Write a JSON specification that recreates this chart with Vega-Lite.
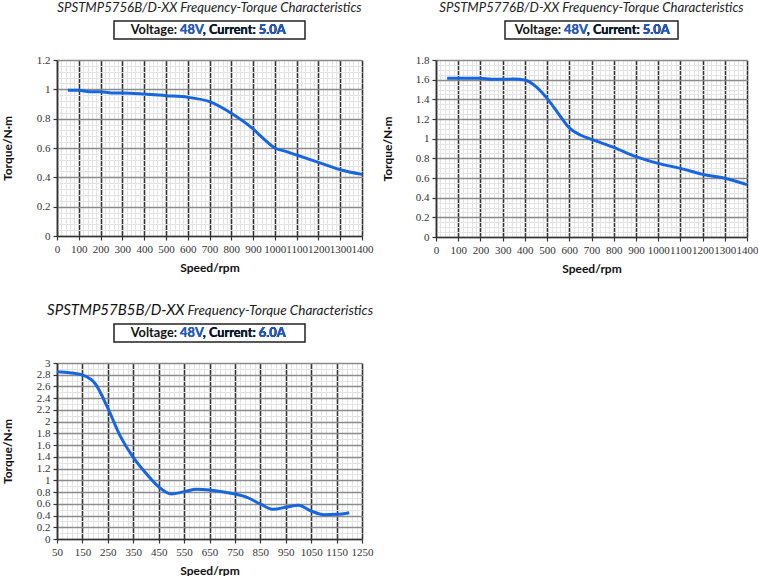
{
  "$schema": "https://vega.github.io/schema/vega-lite/v6.json",
  "background": "white",
  "padding": {"left": 1, "top": 0, "right": 0, "bottom": 0},
  "datasets": {
    "p1": [
      {"speed": 50, "torque": 0.993}, {"speed": 100, "torque": 0.993}, {"speed": 150, "torque": 0.984},
      {"speed": 200, "torque": 0.984}, {"speed": 250, "torque": 0.975}, {"speed": 300, "torque": 0.975},
      {"speed": 400, "torque": 0.968}, {"speed": 500, "torque": 0.957}, {"speed": 600, "torque": 0.946},
      {"speed": 700, "torque": 0.916}, {"speed": 800, "torque": 0.837}, {"speed": 900, "torque": 0.73},
      {"speed": 950, "torque": 0.66}, {"speed": 1000, "torque": 0.6}, {"speed": 1050, "torque": 0.577},
      {"speed": 1100, "torque": 0.552}, {"speed": 1200, "torque": 0.502}, {"speed": 1300, "torque": 0.452},
      {"speed": 1400, "torque": 0.42}
    ],
    "p2": [
      {"speed": 50, "torque": 1.614}, {"speed": 100, "torque": 1.614}, {"speed": 200, "torque": 1.614},
      {"speed": 250, "torque": 1.604}, {"speed": 300, "torque": 1.604}, {"speed": 350, "torque": 1.607},
      {"speed": 400, "torque": 1.597}, {"speed": 450, "torque": 1.53}, {"speed": 500, "torque": 1.41},
      {"speed": 550, "torque": 1.258}, {"speed": 600, "torque": 1.11}, {"speed": 650, "torque": 1.037},
      {"speed": 700, "torque": 0.993}, {"speed": 800, "torque": 0.912}, {"speed": 900, "torque": 0.817},
      {"speed": 1000, "torque": 0.749}, {"speed": 1100, "torque": 0.698}, {"speed": 1200, "torque": 0.637},
      {"speed": 1300, "torque": 0.597}, {"speed": 1400, "torque": 0.532}
    ],
    "p3": [
      {"speed": 50, "torque": 2.852}, {"speed": 100, "torque": 2.835}, {"speed": 150, "torque": 2.795},
      {"speed": 200, "torque": 2.65}, {"speed": 250, "torque": 2.23}, {"speed": 300, "torque": 1.745},
      {"speed": 350, "torque": 1.39}, {"speed": 400, "torque": 1.12}, {"speed": 450, "torque": 0.89},
      {"speed": 500, "torque": 0.767}, {"speed": 550, "torque": 0.807}, {"speed": 600, "torque": 0.847},
      {"speed": 650, "torque": 0.835}, {"speed": 700, "torque": 0.807}, {"speed": 750, "torque": 0.767},
      {"speed": 800, "torque": 0.705}, {"speed": 850, "torque": 0.597}, {"speed": 900, "torque": 0.506},
      {"speed": 950, "torque": 0.54}, {"speed": 1000, "torque": 0.574}, {"speed": 1050, "torque": 0.477},
      {"speed": 1100, "torque": 0.415}, {"speed": 1150, "torque": 0.42}, {"speed": 1200, "torque": 0.449}
    ]
  },
  "config": {
    "view": {"stroke": null},
    "axis": {
      "labelFont": "Liberation Serif", "labelFontSize": 11, "labelColor": "#333",
      "labelOverlap": false, "labelFlush": false,
      "domainColor": "#333", "domainWidth": 1.5, "tickColor": "#333", "tickSize": 4, "tickWidth": 1.2,
      "titleFont": "Lato", "titleFontWeight": "bold", "titleFontSize": 12, "titleColor": "#111"
    },
    "axisX": {"labelPadding": 3, "titlePadding": 8},
    "axisY": {"labelPadding": 3}
  },
  "vconcat": [
    {
      "hconcat": [
        {
          "vconcat": [
            {
              "width": 191, "height": 18,
              "view": {"stroke": "#222", "strokeWidth": 1.5},
              "title": {"text": "SPSTMP5756B/D-XX Frequency-Torque Characteristics", "font": "Lato", "fontStyle": "italic", "fontWeight": "normal", "fontSize": 13.2, "color": "#222", "offset": 6},
              "data": {"values": [{}]},
              "layer": [
                {"mark": {"type": "text", "align": "right", "dx": 76, "font": "Lato", "fontWeight": "bold", "fontSize": 12.75, "color": "#111"}, "encoding": {"text": {"value": "Voltage: 48V, Current: 5.0A"}}},
                {"mark": {"type": "text", "align": "right", "dx": 76, "font": "Lato", "fontWeight": "bold", "fontSize": 12.75, "color": "#1f5fd0"}, "encoding": {"text": {"value": "48V, Current: 5.0A"}}},
                {"mark": {"type": "text", "align": "right", "dx": 76, "font": "Lato", "fontWeight": "bold", "fontSize": 12.75, "color": "#111"}, "encoding": {"text": {"value": ", Current: 5.0A"}}},
                {"mark": {"type": "text", "align": "right", "dx": 76, "font": "Lato", "fontWeight": "bold", "fontSize": 12.75, "color": "#1f5fd0"}, "encoding": {"text": {"value": "5.0A"}}}
              ]
            },
            {
              "width": 305, "height": 176,
              "data": {"name": "p1"},
              "layer": [
                {
                  "mark": {"type": "line", "color": "#1766dd", "strokeWidth": 3, "interpolate": "monotone"},
                  "encoding": {
                    "x": {"field": "speed", "type": "quantitative", "scale": {"domain": [0, 1400], "nice": false, "zero": false},
                      "axis": {"orient": "bottom", "values": [0,20,40,60,80,100,120,140,160,180,200,220,240,260,280,300,320,340,360,380,400,420,440,460,480,500,520,540,560,580,600,620,640,660,680,700,720,740,760,780,800,820,840,860,880,900,920,940,960,980,1000,1020,1040,1060,1080,1100,1120,1140,1160,1180,1200,1220,1240,1260,1280,1300,1320,1340,1360,1380,1400], "grid": true, "gridColor": "#e3e3e3", "gridWidth": 1, "domain": false, "ticks": false, "labels": false, "title": null}},
                    "y": {"field": "torque", "type": "quantitative", "scale": {"domain": [0, 1.2], "nice": false},
                      "axis": {"orient": "left", "values": [0,0.04,0.08,0.12,0.16,0.2,0.24,0.28,0.32,0.36,0.4,0.44,0.48,0.52,0.56,0.6,0.64,0.68,0.72,0.76,0.8,0.84,0.88,0.92,0.96,1,1.04,1.08,1.12,1.16,1.2], "grid": true, "gridColor": "#e3e3e3", "gridWidth": 1, "domain": false, "ticks": false, "labels": false, "title": null}}
                  }
                },
                {
                  "mark": {"type": "line", "opacity": 0},
                  "encoding": {
                    "x": {"field": "speed", "type": "quantitative", "axis": {"orient": "bottom", "values": [0,100,200,300,400,500,600,700,800,900,1000,1100,1200,1300,1400], "format": "d", "labelFont": "Liberation Serif", "grid": true, "gridColor": "#333", "gridWidth": 1.6, "title": "Speed/rpm"}},
                    "y": {"field": "torque", "type": "quantitative", "axis": {"orient": "left", "values": [0,0.2,0.4,0.6,0.8,1,1.2], "format": "~g", "labelFont": "Liberation Serif", "grid": true, "gridColor": "#8a8a8a", "gridWidth": 1.3, "title": "Torque/N·m", "titlePadding": 22}}
                  }
                }
              ],
              "resolve": {"axis": {"x": "independent", "y": "independent"}}
            }
          ],
          "spacing": 21, "center": true, "bounds": "flush"
        },
        {
          "vconcat": [
            {
              "width": 173, "height": 18,
              "view": {"stroke": "#222", "strokeWidth": 1.5},
              "title": {"text": "SPSTMP5776B/D-XX Frequency-Torque Characteristics", "font": "Lato", "fontStyle": "italic", "fontWeight": "normal", "fontSize": 13.2, "color": "#222", "offset": 6},
              "data": {"values": [{}]},
              "layer": [
                {"mark": {"type": "text", "align": "right", "dx": 78, "font": "Lato", "fontWeight": "bold", "fontSize": 12.75, "color": "#111"}, "encoding": {"text": {"value": "Voltage: 48V, Current: 5.0A"}}},
                {"mark": {"type": "text", "align": "right", "dx": 78, "font": "Lato", "fontWeight": "bold", "fontSize": 12.75, "color": "#1f5fd0"}, "encoding": {"text": {"value": "48V, Current: 5.0A"}}},
                {"mark": {"type": "text", "align": "right", "dx": 78, "font": "Lato", "fontWeight": "bold", "fontSize": 12.75, "color": "#111"}, "encoding": {"text": {"value": ", Current: 5.0A"}}},
                {"mark": {"type": "text", "align": "right", "dx": 78, "font": "Lato", "fontWeight": "bold", "fontSize": 12.75, "color": "#1f5fd0"}, "encoding": {"text": {"value": "5.0A"}}}
              ]
            },
            {
              "width": 311, "height": 177,
              "data": {"name": "p2"},
              "layer": [
                {
                  "mark": {"type": "line", "color": "#1766dd", "strokeWidth": 3, "interpolate": "monotone"},
                  "encoding": {
                    "x": {"field": "speed", "type": "quantitative", "scale": {"domain": [0, 1400], "nice": false, "zero": false},
                      "axis": {"orient": "bottom", "values": [0,20,40,60,80,100,120,140,160,180,200,220,240,260,280,300,320,340,360,380,400,420,440,460,480,500,520,540,560,580,600,620,640,660,680,700,720,740,760,780,800,820,840,860,880,900,920,940,960,980,1000,1020,1040,1060,1080,1100,1120,1140,1160,1180,1200,1220,1240,1260,1280,1300,1320,1340,1360,1380,1400], "grid": true, "gridColor": "#e3e3e3", "gridWidth": 1, "domain": false, "ticks": false, "labels": false, "title": null}},
                    "y": {"field": "torque", "type": "quantitative", "scale": {"domain": [0, 1.8], "nice": false},
                      "axis": {"orient": "left", "values": [0,0.05,0.1,0.15,0.2,0.25,0.3,0.35,0.4,0.45,0.5,0.55,0.6,0.65,0.7,0.75,0.8,0.85,0.9,0.95,1,1.05,1.1,1.15,1.2,1.25,1.3,1.35,1.4,1.45,1.5,1.55,1.6,1.65,1.7,1.75,1.8], "grid": true, "gridColor": "#e3e3e3", "gridWidth": 1, "domain": false, "ticks": false, "labels": false, "title": null}}
                  }
                },
                {
                  "mark": {"type": "line", "opacity": 0},
                  "encoding": {
                    "x": {"field": "speed", "type": "quantitative", "axis": {"orient": "bottom", "values": [0,100,200,300,400,500,600,700,800,900,1000,1100,1200,1300,1400], "format": "d", "labelFont": "Liberation Serif", "grid": true, "gridColor": "#333", "gridWidth": 1.6, "title": "Speed/rpm"}},
                    "y": {"field": "torque", "type": "quantitative", "axis": {"orient": "left", "values": [0,0.2,0.4,0.6,0.8,1,1.2,1.4,1.6,1.8], "format": "~g", "labelFont": "Liberation Serif", "grid": true, "gridColor": "#8a8a8a", "gridWidth": 1.3, "title": "Torque/N·m", "titlePadding": 21}}
                  }
                }
              ],
              "resolve": {"axis": {"x": "independent", "y": "independent"}}
            }
          ],
          "spacing": 21, "center": true, "bounds": "flush"
        }
      ],
      "spacing": 8
    },
    {
      "vconcat": [
        {
          "width": 191, "height": 18,
          "view": {"stroke": "#222", "strokeWidth": 1.5},
          "data": {"values": [{}]},
          "layer": [
            {"mark": {"type": "text", "align": "right", "baseline": "alphabetic", "dx": -25, "dy": -18, "font": "Lato", "fontStyle": "italic", "fontSize": 15, "color": "#111"}, "encoding": {"text": {"value": "SPSTMP57B5B/D-XX"}}},
            {"mark": {"type": "text", "align": "left", "baseline": "alphabetic", "dx": -22, "dy": -18, "font": "Lato", "fontStyle": "italic", "fontSize": 13.5, "color": "#222"}, "encoding": {"text": {"value": "Frequency-Torque Characteristics"}}},
            {"mark": {"type": "text", "align": "right", "dx": 76, "font": "Lato", "fontWeight": "bold", "fontSize": 12.75, "color": "#111"}, "encoding": {"text": {"value": "Voltage: 48V, Current: 6.0A"}}},
            {"mark": {"type": "text", "align": "right", "dx": 76, "font": "Lato", "fontWeight": "bold", "fontSize": 12.75, "color": "#1f5fd0"}, "encoding": {"text": {"value": "48V, Current: 6.0A"}}},
            {"mark": {"type": "text", "align": "right", "dx": 76, "font": "Lato", "fontWeight": "bold", "fontSize": 12.75, "color": "#111"}, "encoding": {"text": {"value": ", Current: 6.0A"}}},
            {"mark": {"type": "text", "align": "right", "dx": 76, "font": "Lato", "fontWeight": "bold", "fontSize": 12.75, "color": "#1f5fd0"}, "encoding": {"text": {"value": "6.0A"}}}
          ]
        },
        {
          "width": 305, "height": 176,
          "data": {"name": "p3"},
          "layer": [
            {
              "mark": {"type": "line", "color": "#1766dd", "strokeWidth": 3, "interpolate": "monotone"},
              "encoding": {
                "x": {"field": "speed", "type": "quantitative", "scale": {"domain": [50, 1250], "nice": false, "zero": false},
                  "axis": {"orient": "bottom", "values": [50,70,90,110,130,150,170,190,210,230,250,270,290,310,330,350,370,390,410,430,450,470,490,510,530,550,570,590,610,630,650,670,690,710,730,750,770,790,810,830,850,870,890,910,930,950,970,990,1010,1030,1050,1070,1090,1110,1130,1150,1170,1190,1210,1230,1250], "grid": true, "gridColor": "#e3e3e3", "gridWidth": 1, "domain": false, "ticks": false, "labels": false, "title": null}},
                "y": {"field": "torque", "type": "quantitative", "scale": {"domain": [0, 3], "nice": false},
                  "axis": {"orient": "left", "values": [0,0.1,0.2,0.3,0.4,0.5,0.6,0.7,0.8,0.9,1,1.1,1.2,1.3,1.4,1.5,1.6,1.7,1.8,1.9,2,2.1,2.2,2.3,2.4,2.5,2.6,2.7,2.8,2.9,3], "grid": true, "gridColor": "#e3e3e3", "gridWidth": 1, "domain": false, "ticks": false, "labels": false, "title": null}}
              }
            },
            {
              "mark": {"type": "line", "opacity": 0},
              "encoding": {
                "x": {"field": "speed", "type": "quantitative", "axis": {"orient": "bottom", "values": [50,150,250,350,450,550,650,750,850,950,1050,1150,1250], "format": "d", "labelFont": "Liberation Serif", "grid": true, "gridColor": "#333", "gridWidth": 1.6, "title": "Speed/rpm"}},
                "y": {"field": "torque", "type": "quantitative", "axis": {"orient": "left", "values": [0,0.2,0.4,0.6,0.8,1,1.2,1.4,1.6,1.8,2,2.2,2.4,2.6,2.8,3], "format": "~g", "labelFont": "Liberation Serif", "grid": true, "gridColor": "#8a8a8a", "gridWidth": 1.3, "title": "Torque/N·m", "titlePadding": 22}}
              }
            }
          ],
          "resolve": {"axis": {"x": "independent", "y": "independent"}}
        }
      ],
      "spacing": 21, "center": true, "bounds": "flush"
    }
  ],
  "spacing": 28
}
